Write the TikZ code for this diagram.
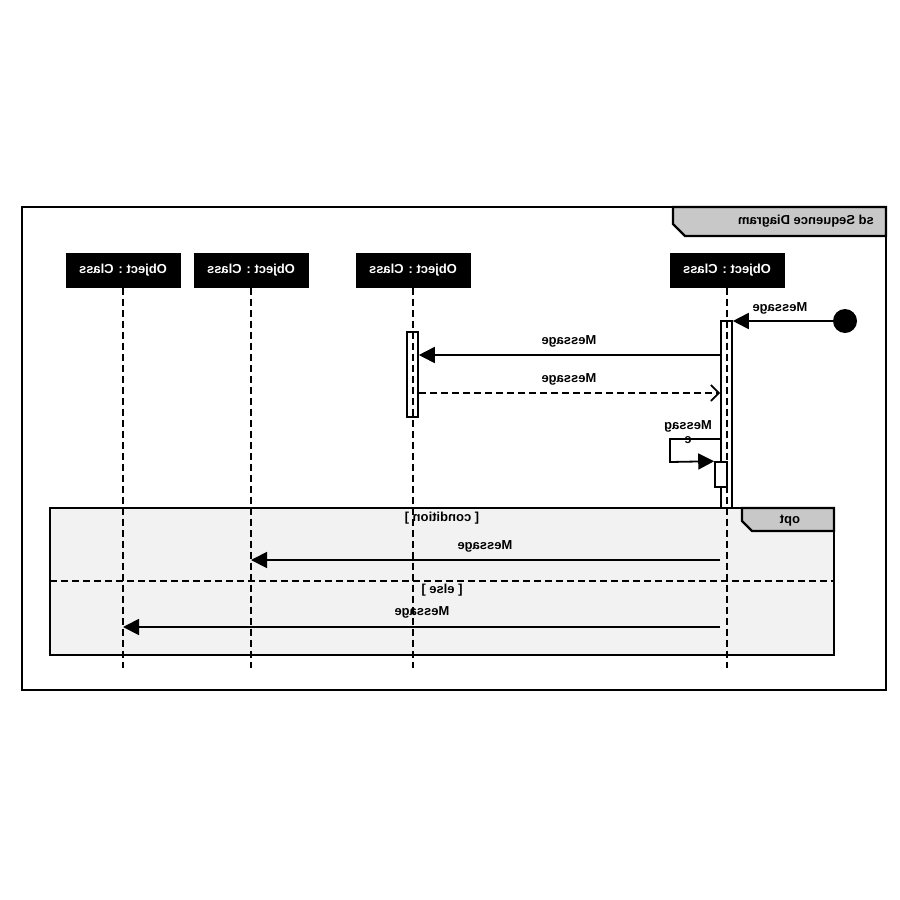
\documentclass[tikz,border=0pt]{standalone}
\usepackage{fontspec}
\setmainfont{Liberation Sans}
\usetikzlibrary{arrows.meta}
\begin{document}
\begin{tikzpicture}[x=1pt,y=-1pt,
  txt/.style={font=\bfseries\fontsize{13}{14}\selectfont, xscale=-1, inner sep=1pt},
  head/.style={txt, fill=black, text=white, minimum width=115pt, minimum height=35pt},
  life/.style={line width=2pt, dash pattern=on 7pt off 4pt},
  act/.style={draw, line width=1.6pt, fill=white, minimum width=11pt, inner sep=0pt},
  msg/.style={line width=1.8pt, -{Triangle[length=16pt,width=16pt]}},
  ret/.style={line width=1.8pt, dash pattern=on 7pt off 4pt, -{Straight Barb[length=8pt,width=16pt]}},
  frm/.style={line width=2.2pt},
  tab/.style={frm, fill=gray!43},
]
\useasboundingbox (0,0) rectangle (900,900);

% outer sd frame with its name tab
\draw[frm] (22,207) rectangle (886,690);
\draw[tab] (673,207) -- (886,207) -- (886,236) -- (685,236) -- (673,224) -- cycle;
\node[txt] (title) at (806,221) {sd Sequence Diagram};

% opt combined fragment
\draw[frm, fill=gray!10] (50,508) rectangle (834,655);
\draw[tab] (742,508) -- (834,508) -- (834,531) -- (752,531) -- (742,521) -- cycle;
\node[txt] (optlbl) at (790,521) {opt};
\draw[life] (50,581) -- (834,581);
\node[txt] (guard1) at (442,518) {[ condition ]};
\node[txt] (guard2) at (442,590) {[ else ]};

% lifeline heads
\node[head] (h1) at (123,270) {Object : Class};
\node[head] (h2) at (251,270) {Object : Class};
\node[head] (h3) at (413,270) {Object : Class};
\node[head] (h4) at (727,270) {Object : Class};

% ends of the lifelines
\coordinate (e1) at (123,668);
\coordinate (e2) at (251,668);
\coordinate (e3) at (413,668);
\coordinate (e4) at (727,668);

% activation bars
\node[act, minimum height=85pt] (act3) at (412.5,374.5) {};
\node[act, minimum height=187pt] (act4) at (726.5,414.5) {};

% lifelines
\draw[life] (h1.south) -- (e1);
\draw[life] (h2.south) -- (e2);
\draw[life] (h3.south) -- (e3);
\draw[life] (h4.south) -- (e4);

% nested activation for the self call
\node[act, minimum width=12pt, minimum height=25pt] (act4b) at (721,474.5) {};

% found message
\node[circle, fill=black, minimum size=24pt, inner sep=0pt] (start) at (845,321) {};
\draw[msg] (start.west) -- (start.west -| act4.east);
\node[txt] (m0) at (780,308) {Message};

% call and return between the two active lifelines
\draw[msg] (act4.west |- 0,355) -- (act3.east |- 0,355);
\node[txt] (m1) at (569,341) {Message};
\draw[ret] (act3.east |- 0,393) -- (act4.west |- 0,393);
\node[txt] (m2) at (569,379) {Message};

% self call
\node[txt, align=center] (m3) at (688,432) {Messag\\e};
\draw[msg] (act4.west |- 0,439) -| (670,462) -- (act4b.north west);

% messages inside the fragment
\draw[msg] (act4.west |- 0,560) -- (h2 |- 0,560);
\node[txt] (m4) at (485,546) {Message};
\draw[msg] (act4.west |- 0,627) -- (h1 |- 0,627);
\node[txt] (m5) at (422,612) {Message};
\end{tikzpicture}
\end{document}
